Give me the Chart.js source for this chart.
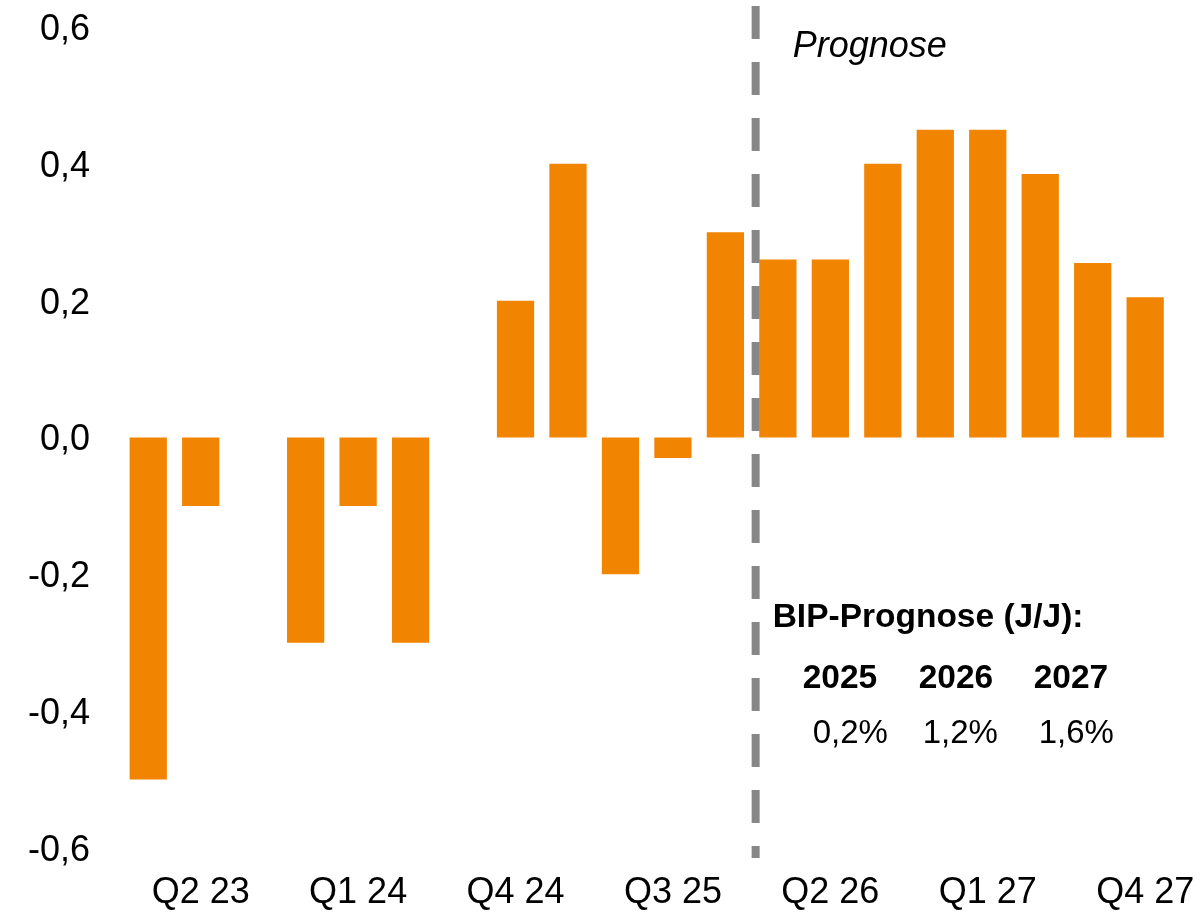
<!DOCTYPE html>
<html>
<head>
<meta charset="utf-8">
<script src="https://cdn.jsdelivr.net/npm/chart.js@4/dist/chart.umd.min.js"></script>
<style>
  html, body { margin: 0; padding: 0; background: #fff; }
  #wrap { width: 1201px; height: 913px; }
</style>
</head>
<body>
<div id="wrap"><canvas id="bip"></canvas></div>
<script>
const quarters = [
  "Q1 23", "Q2 23", "Q3 23", "Q4 23",
  "Q1 24", "Q2 24", "Q3 24", "Q4 24",
  "Q1 25", "Q2 25", "Q3 25", "Q4 25",
  "Q1 26", "Q2 26", "Q3 26", "Q4 26",
  "Q1 27", "Q2 27", "Q3 27", "Q4 27",
];
const growth = [
  -0.5, -0.1, 0, -0.3,
  -0.1, -0.3, 0, 0.2,
  0.4, -0.2, -0.03, 0.3,
  0.26, 0.26, 0.4, 0.45,
  0.45, 0.385, 0.255, 0.205,
];
const forecastStart = 11.5; // between Q4 25 and Q1 26
const forecastYears = ["2025", "2026", "2027"];
const forecastValues = ["0,2%", "1,2%", "1,6%"];

const FONT = "'Liberation Sans', Arial, sans-serif";
const ORANGE = "#f18400";

const fmt = (v) => v.toFixed(1).replace(".", ",");

const forecastPlugin = {
  id: "forecast",
  afterDatasetsDraw(chart) {
    const ctx = chart.ctx;
    const x = chart.scales.x;
    const lineX = x.getPixelForValue(forecastStart) + 4;

    ctx.save();
    ctx.strokeStyle = "#878787";
    ctx.lineWidth = 8;
    ctx.setLineDash([33, 23]);
    ctx.beginPath();
    ctx.moveTo(lineX, 6);
    ctx.lineTo(lineX, 858);
    ctx.stroke();
    ctx.setLineDash([]);

    ctx.fillStyle = "#000";
    ctx.textBaseline = "alphabetic";
    ctx.textAlign = "left";

    ctx.font = "italic 36px " + FONT;
    ctx.fillText("Prognose", lineX + 37, 57);

    ctx.font = "bold 33.5px " + FONT;
    ctx.fillText("BIP-Prognose (J/J):", lineX + 17, 627);

    const colX = [lineX + 47, lineX + 163, lineX + 278];
    forecastYears.forEach((yr, i) => ctx.fillText(yr, colX[i], 688));

    ctx.font = "33px " + FONT;
    const valX = [lineX + 57, lineX + 167, lineX + 283];
    forecastValues.forEach((v, i) => ctx.fillText(v, valX[i], 743));
    ctx.restore();
  },
};

new Chart(document.getElementById("bip").getContext("2d"), {
  type: "bar",
  data: {
    labels: quarters,
    datasets: [
      {
        label: "BIP",
        data: growth,
        backgroundColor: ORANGE,
        borderWidth: 0,
        barPercentage: 0.71,
        categoryPercentage: 1.0,
      },
    ],
  },
  options: {
    responsive: true,
    maintainAspectRatio: false,
    animation: false,
    layout: { padding: 0 },
    plugins: {
      legend: { display: false },
      tooltip: { enabled: false },
    },
    scales: {
      x: {
        grid: { display: false, drawTicks: false },
        border: { display: false },
        afterFit: (scale) => {
          scale.height = 65;
          scale.paddingLeft = 0;
          scale.paddingRight = 29.6;
        },
        ticks: {
          autoSkip: false,
          maxRotation: 0,
          padding: 23,
          color: "#000",
          font: { family: FONT, size: 36 },
          callback: function (value, index) {
            return index % 3 === 1 ? this.getLabelForValue(value) : "";
          },
        },
      },
      y: {
        min: -0.6,
        max: 0.6,
        grid: { display: false, drawTicks: false },
        border: { display: false },
        afterFit: (scale) => {
          scale.width = 122;
          scale.paddingTop = 27;
          scale.paddingBottom = 0;
        },
        ticks: {
          stepSize: 0.2,
          padding: 32,
          labelOffset: 3,
          color: "#000",
          font: { family: FONT, size: 36 },
          callback: (v) => fmt(v),
        },
      },
    },
  },
  plugins: [forecastPlugin],
});
</script>
</body>
</html>
